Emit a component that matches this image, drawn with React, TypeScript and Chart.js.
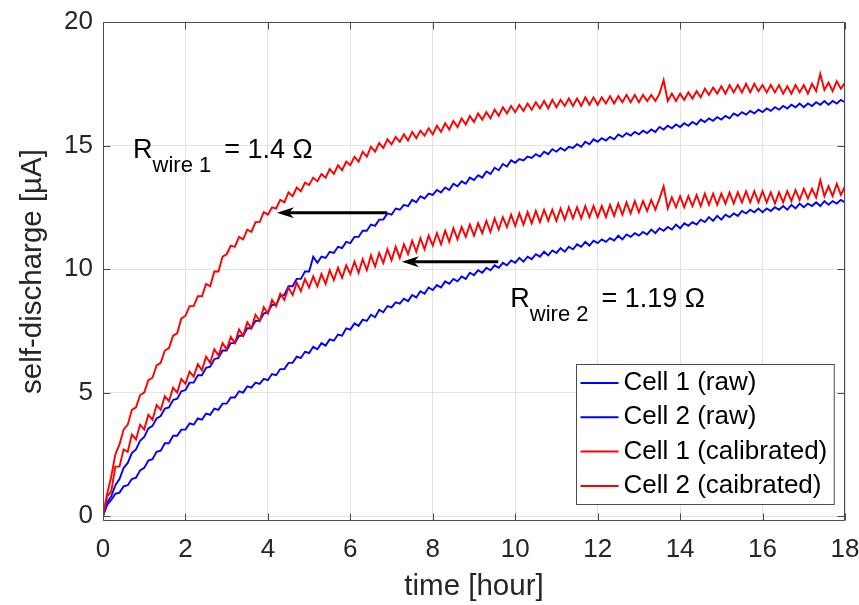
import { useEffect, useRef } from 'react';
import { Chart, registerables } from 'chart.js';

Chart.register(...registerables);

const FONT = '"Liberation Sans", Arial, Helvetica, sans-serif';

const HOURS = [
  0, 0.1, 0.2, 0.3, 0.4, 0.5, 0.6, 0.7, 0.8, 0.9,
  1, 1.1, 1.2, 1.3, 1.4, 1.5, 1.6, 1.7, 1.8, 1.9,
  2, 2.1, 2.2, 2.3, 2.4, 2.5, 2.6, 2.7, 2.8, 2.9,
  3, 3.1, 3.2, 3.3, 3.4, 3.5, 3.6, 3.7, 3.8, 3.9,
  4, 4.1, 4.2, 4.3, 4.4, 4.5, 4.6, 4.7, 4.8, 4.9,
  5, 5.1, 5.2, 5.3, 5.4, 5.5, 5.6, 5.7, 5.8, 5.9,
  6, 6.1, 6.2, 6.3, 6.4, 6.5, 6.6, 6.7, 6.8, 6.9,
  7, 7.1, 7.2, 7.3, 7.4, 7.5, 7.6, 7.7, 7.8, 7.9,
  8, 8.1, 8.2, 8.3, 8.4, 8.5, 8.6, 8.7, 8.8, 8.9,
  9, 9.1, 9.2, 9.3, 9.4, 9.5, 9.6, 9.7, 9.8, 9.9,
  10, 10.1, 10.2, 10.3, 10.4, 10.5, 10.6, 10.7, 10.8, 10.9,
  11, 11.1, 11.2, 11.3, 11.4, 11.5, 11.6, 11.7, 11.8, 11.9,
  12, 12.1, 12.2, 12.3, 12.4, 12.5, 12.6, 12.7, 12.8, 12.9,
  13, 13.1, 13.2, 13.3, 13.4, 13.5, 13.6, 13.7, 13.8, 13.9,
  14, 14.1, 14.2, 14.3, 14.4, 14.5, 14.6, 14.7, 14.8, 14.9,
  15, 15.1, 15.2, 15.3, 15.4, 15.5, 15.6, 15.7, 15.8, 15.9,
  16, 16.1, 16.2, 16.3, 16.4, 16.5, 16.6, 16.7, 16.8, 16.9,
  17, 17.1, 17.2, 17.3, 17.4, 17.5, 17.6, 17.7, 17.8, 17.9,
  18,
];

const CELL1_RAW = [
  0.0, 0.55, 0.8, 1.25, 1.5, 1.95, 2.15, 2.55, 2.7, 3.05,
  3.2, 3.55, 3.65, 3.95, 4.05, 4.35, 4.4, 4.7, 4.75, 5.05,
  5.1, 5.4, 5.4, 5.7, 5.7, 6.0, 6.05, 6.35, 6.4, 6.7,
  6.7, 7.0, 7.0, 7.3, 7.3, 7.6, 7.6, 7.9, 7.9, 8.2,
  8.25, 8.55, 8.55, 8.9, 8.95, 9.3, 9.3, 9.6, 9.6, 9.9,
  9.9, 10.5, 10.25, 10.5, 10.45, 10.7, 10.65, 10.9, 10.85, 11.1,
  11.05, 11.3, 11.3, 11.55, 11.55, 11.8, 11.75, 12.0, 12.0, 12.25,
  12.2, 12.45, 12.4, 12.6, 12.55, 12.8, 12.7, 12.95, 12.85, 13.05,
  13.0, 13.2, 13.1, 13.3, 13.2, 13.45, 13.35, 13.55, 13.45, 13.7,
  13.6, 13.8, 13.7, 13.95, 13.85, 14.1, 14.0, 14.25, 14.15, 14.4,
  14.3, 14.45, 14.4, 14.55, 14.5, 14.65, 14.55, 14.75, 14.65, 14.85,
  14.75, 14.9, 14.8, 14.95, 14.9, 15.05, 14.95, 15.15, 15.05, 15.25,
  15.15, 15.3, 15.2, 15.35, 15.25, 15.45, 15.35, 15.5, 15.4, 15.55,
  15.45, 15.6, 15.5, 15.65, 15.55, 15.75, 15.65, 15.8, 15.7, 15.85,
  15.75, 15.9, 15.8, 15.95, 15.85, 16.05, 15.95, 16.1, 16.0, 16.15,
  16.05, 16.2, 16.1, 16.3, 16.2, 16.35, 16.25, 16.4, 16.3, 16.45,
  16.35, 16.5, 16.4, 16.55, 16.45, 16.6, 16.5, 16.65, 16.55, 16.7,
  16.55, 16.7, 16.6, 16.75, 16.65, 16.8, 16.65, 16.8, 16.7, 16.85,
  16.75,
];

const CELL2_RAW = [
  0.0, 0.45, 0.65, 0.9, 0.95, 1.2, 1.25, 1.5, 1.55, 1.85,
  1.95, 2.25, 2.3, 2.6, 2.65, 2.95, 2.95, 3.25, 3.25, 3.5,
  3.5, 3.75, 3.7, 3.95, 3.9, 4.15, 4.1, 4.35, 4.3, 4.55,
  4.55, 4.8, 4.8, 5.05, 5.0, 5.25, 5.2, 5.4, 5.35, 5.55,
  5.5, 5.75, 5.7, 5.95, 5.95, 6.2, 6.2, 6.45, 6.4, 6.65,
  6.6, 6.85, 6.75, 7.0, 6.9, 7.15, 7.1, 7.35, 7.3, 7.6,
  7.55, 7.8, 7.7, 7.95, 7.9, 8.15, 8.05, 8.35, 8.25, 8.5,
  8.45, 8.65, 8.6, 8.8, 8.7, 8.95, 8.85, 9.1, 9.0, 9.25,
  9.15, 9.35, 9.25, 9.5, 9.4, 9.6, 9.5, 9.7, 9.6, 9.85,
  9.75, 9.95, 9.85, 10.05, 9.95, 10.15, 10.05, 10.25, 10.15, 10.35,
  10.25, 10.45, 10.3, 10.5, 10.4, 10.6, 10.5, 10.7, 10.55, 10.75,
  10.65, 10.85, 10.7, 10.9, 10.8, 11.0, 10.9, 11.1, 10.95, 11.15,
  11.05, 11.2, 11.1, 11.25, 11.15, 11.35, 11.2, 11.4, 11.3, 11.45,
  11.35, 11.5, 11.4, 11.6, 11.45, 11.65, 11.55, 11.7, 11.6, 11.8,
  11.65, 11.85, 11.75, 11.9, 11.8, 12.0, 11.9, 12.1, 11.95, 12.15,
  12.0, 12.2, 12.1, 12.25, 12.15, 12.35, 12.25, 12.4, 12.3, 12.45,
  12.3, 12.45, 12.35, 12.5, 12.4, 12.55, 12.4, 12.6, 12.45, 12.65,
  12.5, 12.65, 12.55, 12.7, 12.55, 12.75, 12.6, 12.75, 12.65, 12.8,
  12.7,
];

const CELL1_CAL = [
  0.0, 0.9, 1.6, 2.5, 2.9, 3.5, 3.7, 4.3, 4.4, 4.9,
  5.0, 5.5, 5.6, 6.1, 6.2, 6.7, 6.8, 7.3, 7.4, 8.0,
  8.1, 8.5, 8.5, 8.9, 8.9, 9.4, 9.3, 9.9, 9.9, 10.5,
  10.6, 10.95, 10.9, 11.3, 11.2, 11.6, 11.5, 11.9, 11.9, 12.3,
  12.2, 12.5, 12.45, 12.8, 12.7, 13.1, 12.95, 13.3, 13.15, 13.5,
  13.4, 13.7, 13.55, 13.85, 13.7, 14.05, 13.85, 14.2, 14.0, 14.35,
  14.2, 14.55, 14.35, 14.75, 14.55, 14.95, 14.75, 15.1, 14.9, 15.25,
  15.05, 15.35, 15.15, 15.45, 15.2, 15.55, 15.3, 15.6, 15.4, 15.7,
  15.45, 15.8, 15.55, 15.9, 15.65, 16.0, 15.75, 16.1, 15.85, 16.2,
  15.95, 16.3, 16.05, 16.35, 16.1, 16.45, 16.2, 16.55, 16.3, 16.6,
  16.35, 16.65, 16.4, 16.7, 16.45, 16.75, 16.5, 16.8, 16.5, 16.85,
  16.55, 16.85, 16.6, 16.9, 16.6, 16.9, 16.6, 16.95, 16.65, 16.95,
  16.65, 16.95, 16.7, 17.0, 16.7, 17.0, 16.75, 17.05, 16.75, 17.05,
  16.75, 17.05, 16.8, 17.05, 16.8, 17.1, 17.65, 16.8, 17.1, 16.8,
  17.1, 16.85, 17.15, 16.9, 17.2, 16.95, 17.3, 17.05, 17.35, 17.1,
  17.4, 17.1, 17.45, 17.15, 17.45, 17.15, 17.5, 17.15, 17.5, 17.2,
  17.45, 17.15, 17.45, 17.15, 17.45, 17.1, 17.4, 17.1, 17.45, 17.15,
  17.45, 17.1, 17.5, 17.2, 17.9, 17.25, 17.55, 17.2, 17.6, 17.3,
  17.55,
];

const CELL2_CAL = [
  0.0, 0.8, 1.0, 2.0, 2.0, 2.7, 2.6, 3.3, 3.1, 3.7,
  3.5, 4.1, 3.9, 4.5, 4.3, 4.85, 4.65, 5.2, 5.0, 5.55,
  5.35, 5.85, 5.65, 6.15, 5.9, 6.45, 6.2, 6.75, 6.5, 7.0,
  6.75, 7.25, 7.0, 7.55, 7.3, 7.85, 7.6, 8.15, 7.9, 8.45,
  8.2, 8.75, 8.5, 9.0, 8.75, 9.25, 8.95, 9.45, 9.1, 9.6,
  9.25, 9.7, 9.3, 9.8, 9.4, 9.95, 9.55, 10.05, 9.65, 10.15,
  9.8, 10.3, 9.85, 10.4, 9.95, 10.55, 10.1, 10.65, 10.25, 10.8,
  10.35, 10.9, 10.45, 11.0, 10.6, 11.15, 10.7, 11.25, 10.8, 11.35,
  10.95, 11.45, 11.0, 11.55, 11.1, 11.65, 11.2, 11.7, 11.3, 11.8,
  11.35, 11.85, 11.45, 11.95, 11.5, 12.05, 11.6, 12.1, 11.7, 12.2,
  11.75, 12.25, 11.8, 12.3, 11.85, 12.35, 11.9, 12.4, 11.95, 12.4,
  11.95, 12.45, 12.0, 12.5, 12.05, 12.5, 12.05, 12.55, 12.1, 12.55,
  12.1, 12.55, 12.1, 12.6, 12.15, 12.65, 12.2, 12.7, 12.25, 12.75,
  12.3, 12.75, 12.35, 12.8, 12.4, 12.85, 13.35, 12.45, 12.9, 12.5,
  12.95, 12.5, 12.95, 12.55, 13.0, 12.55, 13.05, 12.6, 13.05, 12.6,
  13.05, 12.65, 13.1, 12.65, 13.1, 12.7, 13.15, 12.7, 13.15, 12.7,
  13.15, 12.7, 13.1, 12.65, 13.1, 12.7, 13.15, 12.75, 13.2, 12.8,
  13.25, 12.85, 13.25, 12.9, 13.6, 12.95, 13.35, 12.95, 13.45, 13.0,
  13.35,
];

const SERIES_LABELS = ['Cell 1 (raw)', 'Cell 2 (raw)', 'Cell 1 (calibrated)', 'Cell 2 (caibrated)'];
const SERIES_COLORS = ['#0000ff', '#0000ff', '#ff0000', '#ff0000'];

const X_TICKS = [0, 2, 4, 6, 8, 10, 12, 14, 16, 18];
const Y_TICKS = [0, 5, 10, 15, 20];
const X_LABEL = 'time [hour]';
const Y_LABEL = 'self-discharge [µA]';

const ANNOTATIONS = [
  { main: 'R', sub: 'wire 1', rest: '= 1.4 Ω', x: 0.73, y: 14.5 },
  { main: 'R', sub: 'wire 2', rest: '= 1.19 Ω', x: 9.88, y: 8.46 },
];

const ARROWS = [
  { x0: 6.89, x1: 4.22, y: 12.28 },
  { x0: 9.59, x1: 7.25, y: 10.29 },
];

const AXIS_COLOR = '#4a4a4a';
const TEXT_COLOR = '#262626';

const decorPlugin = {
  id: 'decor',
  afterDatasetsDraw(chart: any) {
    const { ctx, chartArea: a, scales } = chart;
    const xs = scales.x;
    const ys = scales.y;
    ctx.save();

    // arrows
    ctx.strokeStyle = '#000';
    ctx.fillStyle = '#000';
    for (const ar of ARROWS) {
      const px0 = xs.getPixelForValue(ar.x0);
      const px1 = xs.getPixelForValue(ar.x1);
      const py = ys.getPixelForValue(ar.y);
      ctx.lineWidth = 3;
      ctx.beginPath();
      ctx.moveTo(px0, py);
      ctx.lineTo(px1 + 10, py);
      ctx.stroke();
      ctx.beginPath();
      ctx.moveTo(px1, py);
      ctx.lineTo(px1 + 17, py - 5.5);
      ctx.lineTo(px1 + 12, py);
      ctx.lineTo(px1 + 17, py + 5.5);
      ctx.closePath();
      ctx.fill();
    }

    // annotations
    ctx.fillStyle = '#000';
    ctx.textBaseline = 'alphabetic';
    ctx.textAlign = 'left';
    for (const an of ANNOTATIONS) {
      const px = xs.getPixelForValue(an.x);
      const py = ys.getPixelForValue(an.y);
      ctx.font = `27px ${FONT}`;
      ctx.fillText(an.main, px, py);
      const w1 = ctx.measureText(an.main).width;
      ctx.font = `22px ${FONT}`;
      ctx.fillText(an.sub, px + w1, py + 14);
      const w2 = ctx.measureText(an.sub).width;
      ctx.font = `27px ${FONT}`;
      ctx.fillText(an.rest, px + w1 + w2 + 13, py);
    }

    // axes box
    const L = Math.round(a.left) + 0.5;
    const R = Math.round(a.right) - 0.5;
    const T = Math.round(a.top) + 0.5;
    const B = Math.round(a.bottom) - 0.5;
    ctx.strokeStyle = AXIS_COLOR;
    ctx.lineWidth = 1;
    ctx.beginPath();
    ctx.rect(L, T, R - L, B - T);
    ctx.stroke();

    // inward ticks
    const tl = 7;
    ctx.beginPath();
    for (const v of X_TICKS) {
      const px = Math.round(xs.getPixelForValue(v)) + 0.5;
      ctx.moveTo(px, B);
      ctx.lineTo(px, B - tl);
      ctx.moveTo(px, T);
      ctx.lineTo(px, T + tl);
    }
    for (const v of Y_TICKS) {
      const py = Math.round(ys.getPixelForValue(v)) + 0.5;
      ctx.moveTo(L, py);
      ctx.lineTo(L + tl, py);
      ctx.moveTo(R, py);
      ctx.lineTo(R - tl, py);
    }
    ctx.stroke();

    // legend
    const datasets = chart.data.datasets;
    ctx.font = `26px ${FONT}`;
    let tw = 0;
    for (const d of datasets) tw = Math.max(tw, ctx.measureText(d.label).width);
    const rowH = 34.3;
    const boxW = 4 + 38 + 5 + tw + 7;
    const boxH = 140;
    const bx = Math.round(a.right - 11 - boxW) + 0.5;
    const by = Math.round(a.bottom - 17 - boxH) + 0.5;
    ctx.fillStyle = '#fff';
    ctx.fillRect(bx, by, boxW, boxH);
    ctx.strokeStyle = AXIS_COLOR;
    ctx.lineWidth = 1;
    ctx.strokeRect(bx, by, boxW, boxH);
    ctx.textBaseline = 'middle';
    datasets.forEach((d: any, i: number) => {
      const cy = by + 18.5 + i * rowH;
      ctx.strokeStyle = d.borderColor;
      ctx.lineWidth = 2;
      ctx.beginPath();
      ctx.moveTo(bx + 4, cy);
      ctx.lineTo(bx + 42, cy);
      ctx.stroke();
      ctx.fillStyle = '#000';
      ctx.fillText(d.label, bx + 47, cy);
    });

    ctx.restore();
  },
};

export default function App() {
  const ref = useRef<HTMLCanvasElement | null>(null);

  useEffect(() => {
    if (!ref.current) return;
    const seriesValues = [CELL1_RAW, CELL2_RAW, CELL1_CAL, CELL2_CAL];
    const chart = new Chart(ref.current, {
      type: 'line',
      data: {
        datasets: seriesValues.map((vals, i) => ({
          label: SERIES_LABELS[i],
          data: HOURS.map((h, j) => ({ x: h, y: vals[j] })),
          borderColor: SERIES_COLORS[i],
          backgroundColor: SERIES_COLORS[i],
          borderWidth: 1.9,
          pointRadius: 0,
          tension: 0,
          fill: false,
          order: i >= 2 ? 0 : 1,
        })),
      },
      options: {
        responsive: false,
        animation: false,
        devicePixelRatio: 1,
        layout: { padding: { top: 22, right: 14, left: 0, bottom: 0 } },
        plugins: {
          legend: { display: false },
          tooltip: { enabled: false },
        },
        scales: {
          x: {
            type: 'linear',
            min: 0,
            max: 18,
            afterBuildTicks: (s: any) => {
              s.ticks = X_TICKS.map((v) => ({ value: v }));
            },
            afterFit: (s: any) => {
              s.height = 84;
              s.paddingLeft = 0;
              s.paddingRight = 0;
            },
            grid: { color: '#e3e3e3', lineWidth: 1, drawTicks: false },
            border: { display: false },
            ticks: {
              color: TEXT_COLOR,
              font: { family: FONT, size: 26 },
              padding: 13,
              maxRotation: 0,
              autoSkip: false,
            },
            title: {
              display: true,
              text: X_LABEL,
              color: TEXT_COLOR,
              font: { family: FONT, size: 29.5 },
              padding: { top: 0, bottom: 0 },
            },
          },
          y: {
            type: 'linear',
            min: -0.2,
            max: 20,
            afterBuildTicks: (s: any) => {
              s.ticks = Y_TICKS.map((v) => ({ value: v }));
            },
            afterFit: (s: any) => {
              s.width = 103;
              s.paddingTop = 0;
              s.paddingBottom = 0;
            },
            grid: { color: '#e3e3e3', lineWidth: 1, drawTicks: false },
            border: { display: false },
            ticks: {
              color: TEXT_COLOR,
              font: { family: FONT, size: 26 },
              padding: 10,
              autoSkip: false,
            },
            title: {
              display: true,
              text: Y_LABEL,
              color: TEXT_COLOR,
              font: { family: FONT, size: 29.5 },
              padding: { top: 15, bottom: 0 },
            },
          },
        },
      },
      plugins: [decorPlugin],
    } as any);
    return () => chart.destroy();
  }, []);

  return (
    <div style={{ position: 'absolute', left: 0, top: 0, width: 859, height: 605, background: '#fff' }}>
      <canvas ref={ref} width={859} height={605} style={{ display: 'block', width: 859, height: 605 }} />
    </div>
  );
}
